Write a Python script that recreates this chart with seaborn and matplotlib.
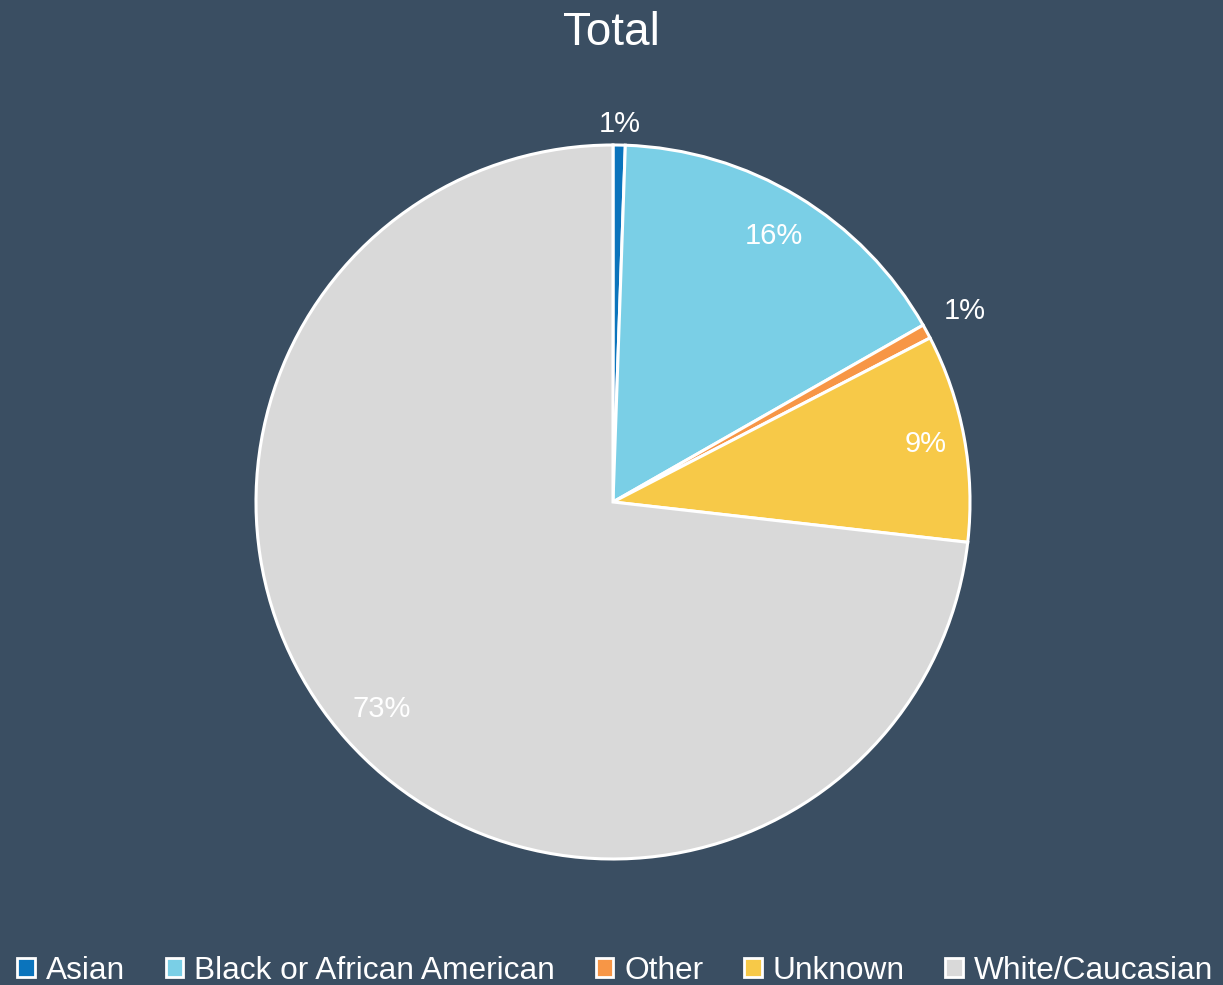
import numpy as np
import matplotlib
matplotlib.use("Agg")
import matplotlib.pyplot as plt
from matplotlib.patches import Patch
import seaborn as sns

# data
categories = ["Asian", "Black or African American", "Other", "Unknown", "White/Caucasian"]
shares = [0.55, 16.2, 0.65, 9.4, 73.2]
pct_labels = ["1%", "16%", "1%", "9%", "73%"]
label_radius = [1.06, 0.87, 1.12, 0.89, 0.87]

BG = "#3A4E62"
colors = sns.color_palette(["#0B74BC", "#7ACFE6", "#F79646", "#F7C948", "#D9D9D9"])

sns.set_theme(style="dark", rc={"figure.facecolor": BG, "axes.facecolor": BG})
plt.rcParams["font.family"] = ["Liberation Sans", "DejaVu Sans"]

fig = plt.figure(figsize=(12.23, 9.85), dpi=100)
ax = fig.add_axes([256 / 1223, 126 / 985, 714 / 1223, 714 / 985])
ax.set_facecolor(BG)

wedges, _ = ax.pie(
    shares,
    colors=colors,
    startangle=90,
    counterclock=False,
    radius=1.0,
    wedgeprops={"edgecolor": "white", "linewidth": 2.2},
)
ax.set_xlim(-1, 1)
ax.set_ylim(-1, 1)
ax.set_aspect("equal")
ax.axis("off")

# percentage labels at the middle angle of each wedge
for w, txt, r in zip(wedges, pct_labels, label_radius):
    mid = np.deg2rad((w.theta1 + w.theta2) / 2)
    ax.text(r * np.cos(mid), r * np.sin(mid), txt, color="white",
            fontsize=21, ha="center", va="center")

fig.text(0.5, 1 - 33 / 985, "Total", color="white", fontsize=33,
         ha="center", va="center")

handles = [Patch(facecolor=c, edgecolor="white", linewidth=2) for c in colors]
fig.legend(
    handles, categories,
    loc="center", bbox_to_anchor=(0.503, 1 - 971 / 985),
    ncol=5, frameon=False,
    fontsize=22.8, labelcolor="white",
    handlelength=0.55, handleheight=0.55,
    handletextpad=0.35, columnspacing=1.29,
)

plt.savefig("out.png", dpi=100, facecolor=BG)
